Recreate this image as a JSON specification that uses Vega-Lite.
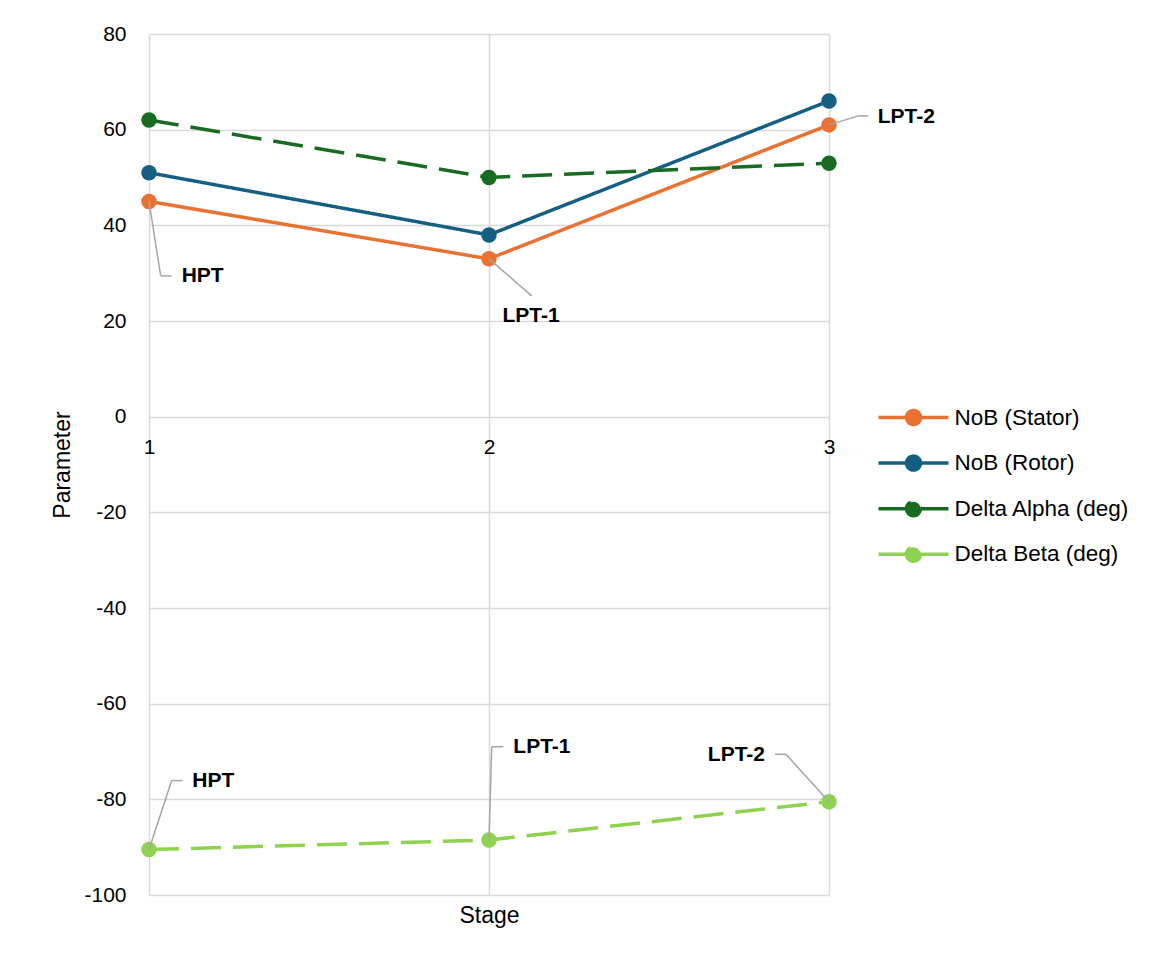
{
  "$schema": "https://vega.github.io/schema/vega-lite/v6.json",
  "width": 680,
  "height": 861,
  "autosize": {"type": "none"},
  "padding": {"left": 149, "top": 34, "right": 325, "bottom": 67},
  "background": "white",
  "config": {
    "view": {"stroke": null},
    "font": "Liberation Sans",
    "text": {"font": "Liberation Sans"}
  },
  "data": {
    "values": [
      {"stage": 1, "site": "HPT", "series": "NoB (Stator)", "value": 45},
      {"stage": 2, "site": "LPT-1", "series": "NoB (Stator)", "value": 33},
      {"stage": 3, "site": "LPT-2", "series": "NoB (Stator)", "value": 61},
      {"stage": 1, "site": "HPT", "series": "NoB (Rotor)", "value": 51},
      {"stage": 2, "site": "LPT-1", "series": "NoB (Rotor)", "value": 38},
      {"stage": 3, "site": "LPT-2", "series": "NoB (Rotor)", "value": 66},
      {"stage": 1, "site": "HPT", "series": "Delta Alpha (deg)", "value": 62},
      {"stage": 2, "site": "LPT-1", "series": "Delta Alpha (deg)", "value": 50},
      {"stage": 3, "site": "LPT-2", "series": "Delta Alpha (deg)", "value": 53},
      {"stage": 1, "site": "HPT", "series": "Delta Beta (deg)", "value": -90.5},
      {"stage": 2, "site": "LPT-1", "series": "Delta Beta (deg)", "value": -88.5},
      {"stage": 3, "site": "LPT-2", "series": "Delta Beta (deg)", "value": -80.5}
    ]
  },
  "encoding": {
    "x": {
      "field": "stage",
      "type": "quantitative",
      "scale": {"domain": [1, 3], "nice": false, "zero": false},
      "axis": {
        "values": [1, 2, 3],
        "labelExpr": "'' + datum.value",
        "labelOverlap": false,
        "title": "Stage",
        "offset": -478.3,
        "domain": false,
        "ticks": false,
        "labelFlush": false,
        "labelPadding": 20,
        "labelFontSize": 21,
        "labelColor": "#000000",
        "titleFontSize": 23,
        "titleFontWeight": "normal",
        "titleColor": "#000000",
        "titlePadding": 447,
        "grid": true,
        "gridColor": "#d9d9d9",
        "gridWidth": 1.5
      }
    },
    "y": {
      "field": "value",
      "type": "quantitative",
      "scale": {"domain": [-100, 80], "nice": false, "zero": false},
      "axis": {
        "values": [-100, -80, -60, -40, -20, 0, 20, 40, 60, 80],
        "labelExpr": "datum.value < 0 ? '-' + abs(datum.value) : '' + datum.value",
        "labelOverlap": false,
        "title": "Parameter",
        "domain": false,
        "ticks": false,
        "labelPadding": 23,
        "labelFontSize": 21,
        "labelColor": "#000000",
        "titleFontSize": 23,
        "titleFontWeight": "normal",
        "titleColor": "#000000",
        "titlePadding": 9,
        "grid": true,
        "gridColor": "#d9d9d9",
        "gridWidth": 1.5
      }
    }
  },
  "layer": [
    {
      "mark": {"type": "line", "strokeWidth": 3.5},
      "encoding": {
        "color": {
          "field": "series",
          "type": "nominal",
          "scale": {
            "domain": ["NoB (Stator)", "NoB (Rotor)", "Delta Alpha (deg)", "Delta Beta (deg)"],
            "range": ["#e97132", "#156082", "#196b24", "#8ed24f"]
          },
          "legend": {
            "orient": "none",
            "legendX": 745,
            "legendY": 364,
            "title": null,
            "padding": 0,
            "symbolType": "M-2,0H2M0.4,0A0.4,0.4,0,1,1,-0.4,0A0.4,0.4,0,1,1,0.4,0Z",
            "symbolSize": 1225,
            "symbolStrokeWidth": 3.5,
            "labelFontSize": 22.5,
            "labelLimit": 400,
            "labelColor": "#000000",
            "labelOffset": 21.5,
            "rowPadding": 11.6,
            "encode": {
              "symbols": {
                "update": {
                  "fill": {"scale": "color", "field": "value"},
                  "stroke": {"scale": "color", "field": "value"},
                  "strokeWidth": {"value": 3.5},
                  "strokeDash": {"value": [1, 0]},
                  "opacity": {"value": 1}
                }
              }
            }
          }
        },
        "strokeDash": {
          "field": "series",
          "type": "nominal",
          "scale": {
            "domain": ["NoB (Stator)", "NoB (Rotor)", "Delta Alpha (deg)", "Delta Beta (deg)"],
            "range": [[1, 0], [1, 0], [30, 12], [30, 12]]
          },
          "legend": null
        }
      }
    },
    {
      "mark": {"type": "point", "filled": true, "opacity": 1, "size": 240, "shape": "circle"},
      "encoding": {
        "color": {
          "field": "series",
          "type": "nominal",
          "scale": {
            "domain": ["NoB (Stator)", "NoB (Rotor)", "Delta Alpha (deg)", "Delta Beta (deg)"],
            "range": ["#e97132", "#156082", "#196b24", "#8ed24f"]
          },
          "legend": null
        }
      }
    },
    {
      "transform": [{"filter": "datum.series === 'NoB (Stator)' && datum.stage === 1"}],
      "layer": [
        {"mark": {"type": "rule", "color": "#a6a6a6", "strokeWidth": 1.5, "x2Offset": 11.7, "y2Offset": 74.5}, "encoding": {"x2": {"field": "stage"}, "y2": {"field": "value"}}},
        {"mark": {"type": "rule", "color": "#a6a6a6", "strokeWidth": 1.5, "xOffset": 11.7, "yOffset": 74.5, "x2Offset": 22.7, "y2Offset": 74.5}, "encoding": {"x2": {"field": "stage"}, "y2": {"field": "value"}}},
        {"mark": {"type": "text", "align": "left", "baseline": "middle", "dx": 32.7, "dy": 74.5, "fontSize": 21, "fontWeight": "bold", "color": "#000000"}, "encoding": {"text": {"field": "site"}}}
      ]
    },
    {
      "transform": [{"filter": "datum.series === 'NoB (Stator)' && datum.stage === 2"}],
      "layer": [
        {"mark": {"type": "rule", "color": "#a6a6a6", "strokeWidth": 1.5, "x2Offset": 42.7, "y2Offset": 37}, "encoding": {"x2": {"field": "stage"}, "y2": {"field": "value"}}},
        {"mark": {"type": "text", "align": "center", "baseline": "middle", "dx": 42, "dy": 57.5, "fontSize": 21, "fontWeight": "bold", "color": "#000000"}, "encoding": {"text": {"field": "site"}}}
      ]
    },
    {
      "transform": [{"filter": "datum.series === 'NoB (Stator)' && datum.stage === 3"}],
      "layer": [
        {"mark": {"type": "rule", "color": "#a6a6a6", "strokeWidth": 1.5, "x2Offset": 29.3, "y2Offset": -9}, "encoding": {"x2": {"field": "stage"}, "y2": {"field": "value"}}},
        {"mark": {"type": "rule", "color": "#a6a6a6", "strokeWidth": 1.5, "xOffset": 29.3, "yOffset": -9, "x2Offset": 39.3, "y2Offset": -9}, "encoding": {"x2": {"field": "stage"}, "y2": {"field": "value"}}},
        {"mark": {"type": "text", "align": "left", "baseline": "middle", "dx": 48.7, "dy": -7.5, "fontSize": 21, "fontWeight": "bold", "color": "#000000"}, "encoding": {"text": {"field": "site"}}}
      ]
    },
    {
      "transform": [{"filter": "datum.series === 'Delta Beta (deg)' && datum.stage === 1"}],
      "layer": [
        {"mark": {"type": "rule", "color": "#a6a6a6", "strokeWidth": 1.5, "x2Offset": 22.7, "y2Offset": -69}, "encoding": {"x2": {"field": "stage"}, "y2": {"field": "value"}}},
        {"mark": {"type": "rule", "color": "#a6a6a6", "strokeWidth": 1.5, "xOffset": 22.7, "yOffset": -69, "x2Offset": 33.7, "y2Offset": -69}, "encoding": {"x2": {"field": "stage"}, "y2": {"field": "value"}}},
        {"mark": {"type": "text", "align": "left", "baseline": "middle", "dx": 43.3, "dy": -69, "fontSize": 21, "fontWeight": "bold", "color": "#000000"}, "encoding": {"text": {"field": "site"}}}
      ]
    },
    {
      "transform": [{"filter": "datum.series === 'Delta Beta (deg)' && datum.stage === 2"}],
      "layer": [
        {"mark": {"type": "rule", "color": "#a6a6a6", "strokeWidth": 1.5, "x2Offset": 2.7, "y2Offset": -93.3}, "encoding": {"x2": {"field": "stage"}, "y2": {"field": "value"}}},
        {"mark": {"type": "rule", "color": "#a6a6a6", "strokeWidth": 1.5, "xOffset": 2.7, "yOffset": -93.3, "x2Offset": 14.3, "y2Offset": -93.3}, "encoding": {"x2": {"field": "stage"}, "y2": {"field": "value"}}},
        {"mark": {"type": "text", "align": "left", "baseline": "middle", "dx": 24.3, "dy": -92.5, "fontSize": 21, "fontWeight": "bold", "color": "#000000"}, "encoding": {"text": {"field": "site"}}}
      ]
    },
    {
      "transform": [{"filter": "datum.series === 'Delta Beta (deg)' && datum.stage === 3"}],
      "layer": [
        {"mark": {"type": "rule", "color": "#a6a6a6", "strokeWidth": 1.5, "x2Offset": -43, "y2Offset": -47.4}, "encoding": {"x2": {"field": "stage"}, "y2": {"field": "value"}}},
        {"mark": {"type": "rule", "color": "#a6a6a6", "strokeWidth": 1.5, "xOffset": -43, "yOffset": -47.4, "x2Offset": -54, "y2Offset": -47.4}, "encoding": {"x2": {"field": "stage"}, "y2": {"field": "value"}}},
        {"mark": {"type": "text", "align": "right", "baseline": "middle", "dx": -64, "dy": -47, "fontSize": 21, "fontWeight": "bold", "color": "#000000"}, "encoding": {"text": {"field": "site"}}}
      ]
    }
  ]
}
